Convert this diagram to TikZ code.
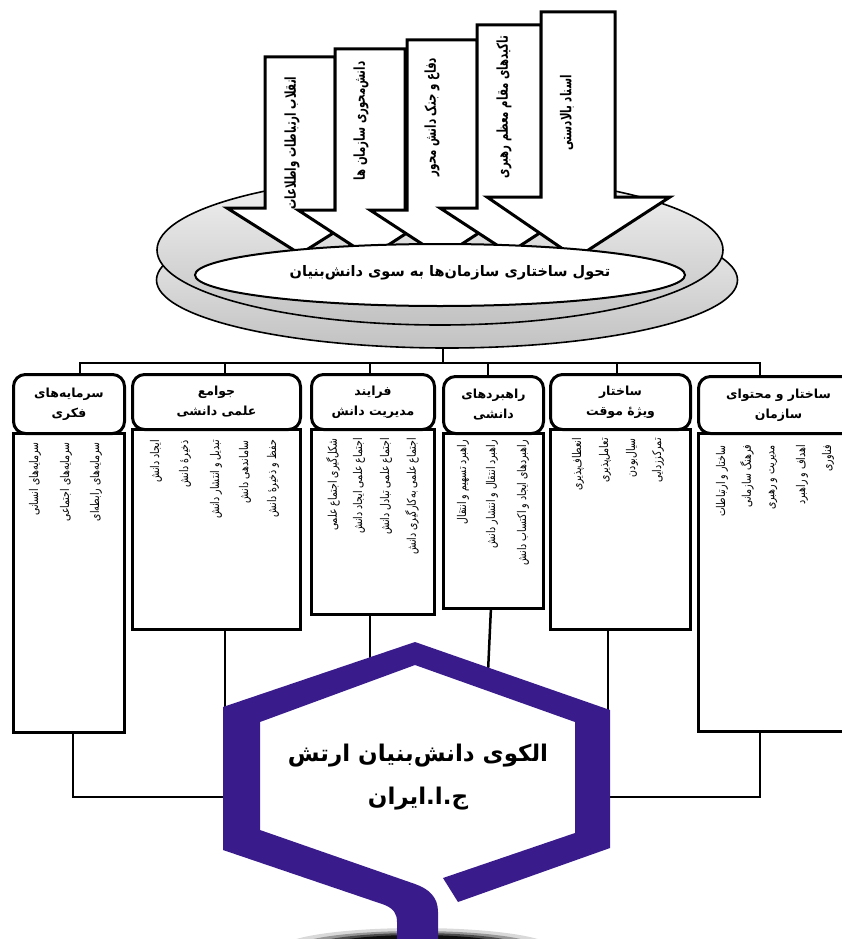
\documentclass[tikz,border=0pt]{standalone}
\usepackage{fontspec}
\usetikzlibrary{shapes.geometric}
\newfontfamily\fa[Script=Arabic]{DejaVu Sans}
\newfontfamily\fan[Script=Arabic,FakeStretch=0.78]{DejaVu Sans}
\newfontfamily\fab[Script=Arabic,FakeStretch=0.68]{DejaVu Sans}
\TeXXeTstate=1
\newcommand\RL[1]{\beginR#1\endR}
\definecolor{hexc}{RGB}{58,27,140}
\begin{document}
\begin{tikzpicture}[x=1pt,y=-1pt,
  hdr/.style={draw,line width=3pt,rounded corners=12pt,fill=white,anchor=north west,align=center,inner sep=0pt,font=\fa\bfseries\fontsize{12.5}{20}\selectfont},
  bodybox/.style={draw,line width=3pt,fill=white,anchor=north west,inner sep=0pt},
  conn/.style={line width=2.5pt},
  arr/.style={draw,line width=3pt,fill=white,line join=miter},
  item/.style={rotate=90,anchor=east,inner sep=0pt,font=\fan\fontsize{12}{14}\selectfont},
  arrtxt/.style={rotate=90,inner sep=0pt,font=\fab\bfseries\fontsize{15}{17}\selectfont},
  disk/.style={ellipse,draw,line width=1.6pt,top color=gray!10,bottom color=gray!48,inner sep=0pt}
]
\clip (0,0) rectangle (842,939);
\fill[white] (0,0) rectangle (842,939);

% shadow under the stem
\fill[black,opacity=0.15] (417,948) ellipse [x radius=135,y radius=20];
\fill[black,opacity=0.3] (417,948) ellipse [x radius=122,y radius=17];
\fill[black,opacity=0.5] (417,948) ellipse [x radius=108,y radius=15];
\fill[black,opacity=0.8] (417,948) ellipse [x radius=95,y radius=13];

% stacked disks
\node[disk,minimum width=581,minimum height=136] (disk2) at (447,280) {};
\node[disk,minimum width=566,minimum height=150] (disk1) at (440,250) {};

% block arrows
\draw[arr] (265,57) -- (335,57) -- (335,208) -- (373,208) -- (300,254) -- (227,208) -- (265,208) -- cycle;
\draw[arr] (335,49) -- (405,49) -- (405,210) -- (442,210) -- (370,257) -- (298,210) -- (335,210) -- cycle;
\draw[arr] (407,40) -- (477,40) -- (477,210) -- (514,210) -- (442,257) -- (370,210) -- (407,210) -- cycle;
\draw[arr] (477,25) -- (541,25) -- (541,208) -- (578,208) -- (509,253) -- (440,208) -- (477,208) -- cycle;
\draw[arr] (541,12) -- (615,12) -- (615,197) -- (670,197) -- (576,258) -- (487,197) -- (541,197) -- cycle;
\node[arrtxt] (a1) at (292,143) {\RL{انقلاب ارتباطات واطلاعات}};
\node[arrtxt] (a2) at (361,121) {\RL{دانش‌محوری سازمان ها}};
\node[arrtxt] (a3) at (432,117) {\RL{دفاع و جنک دانش محور}};
\node[arrtxt] (a4) at (504,107) {\RL{تاکیدهای مقام معظم رهبری}};
\node[arrtxt] (a5) at (567,113) {\RL{اسناد بالادستی}};

% core ellipse
\node[ellipse,draw,line width=2pt,fill=white,minimum width=490,minimum height=62] (core) at (440,275) {};
\node[font=\fa\bfseries\fontsize{14.5}{17}\selectfont,inner sep=0pt] (coretxt) at (450,273) {\RL{تحول ساختاری سازمان‌ها به سوی دانش‌بنیان}};

% connector coordinates
\coordinate (j) at (443,363);
\coordinate (t1) at (80,373);
\coordinate (t2) at (225,373);
\coordinate (t3) at (370,373);
\coordinate (t4) at (488,375);
\coordinate (t5) at (617,373);
\coordinate (t6) at (760,375);
\coordinate (u1) at (73,731);
\coordinate (u2) at (225,628);
\coordinate (u3) at (370,613);
\coordinate (u4) at (491,607);
\coordinate (u5) at (608,628);
\coordinate (u6) at (760,730);
\coordinate (hxL) at (230,797);
\coordinate (hxR) at (603,797);
\coordinate (hxUL) at (225,712);
\coordinate (hxTL) at (370,662);
\coordinate (hxTR) at (488,672);
\coordinate (hxUR) at (608,714);

\draw[conn] (j |- disk2.south) -- (j);
\draw[conn] (t1) |- (j) -| (t6);
\draw[conn] (t2) -- (t2 |- j);
\draw[conn] (t3) -- (t3 |- j);
\draw[conn] (t4) -- (t4 |- j);
\draw[conn] (t5) -- (t5 |- j);

\draw[conn] (u1) |- (hxL);
\draw[conn] (u6) |- (hxR);
\draw[conn] (u2) -- (hxUL);
\draw[conn] (u3) -- (hxTL);
\draw[conn] (u4) -- (hxTR);
\draw[conn] (u5) -- (hxUR);

% boxes: bodies
\node[bodybox,minimum width=111,minimum height=299] (b1) at (12,432) {};
\node[bodybox,minimum width=168,minimum height=200] (b2) at (131,428) {};
\node[bodybox,minimum width=123,minimum height=185] (b3) at (310,428) {};
\node[bodybox,minimum width=100,minimum height=175] (b4) at (442,432) {};
\node[bodybox,minimum width=140,minimum height=200] (b5) at (549,428) {};
\node[bodybox,minimum width=160,minimum height=298] (b6) at (697,432) {};

% boxes: headers
\node[hdr,minimum width=111,minimum height=59] (h1) at (12,373) {\RL{سرمایه‌های}\\\RL{فکری}};
\node[hdr,minimum width=168,minimum height=55] (h2) at (131,373) {\RL{جوامع}\\\RL{علمی دانشی}};
\node[hdr,minimum width=123,minimum height=55] (h3) at (310,373) {\RL{فرایند}\\\RL{مدیریت دانش}};
\node[hdr,minimum width=100,minimum height=57] (h4) at (442,375) {\RL{راهبردهای}\\\RL{دانشی}};
\node[hdr,minimum width=140,minimum height=55] (h5) at (549,373) {\RL{ساختار}\\\RL{ویژهٔ موقت}};
\node[hdr,minimum width=160,minimum height=57] (h6) at (697,375) {\RL{ساختار و محتوای}\\\RL{سازمان}};

% items
\node[item] (i11) at (35,442) {\RL{سرمایه‌های انسانی}};
\node[item] (i12) at (66,442) {\RL{سرمایه‌های اجتماعی}};
\node[item] (i13) at (96,442) {\RL{سرمایه‌های رابطه‌ای}};

\node[item] (i21) at (156,440) {\RL{ایجاد دانش}};
\node[item] (i22) at (185,440) {\RL{ذخیرهٔ دانش}};
\node[item] (i23) at (216,440) {\RL{تبدیل و انتشار دانش}};
\node[item] (i24) at (245,440) {\RL{ساماندهی دانش}};
\node[item] (i25) at (273,440) {\RL{حفظ و ذخیرهٔ دانش}};

\node[item] (i31) at (333,438) {\RL{شکل‌گیری اجتماع علمی}};
\node[item] (i32) at (359,438) {\RL{اجتماع علمی ایجاد دانش}};
\node[item] (i33) at (386,438) {\RL{اجتماع علمی تبادل دانش}};
\node[item] (i34) at (412,438) {\RL{اجتماع علمی به‌کارگیری دانش}};

\node[item] (i41) at (463,440) {\RL{راهبرد تسهیم و انتقال}};
\node[item] (i42) at (492,440) {\RL{راهبرد انتقال و انتشار دانش}};
\node[item] (i43) at (523,440) {\RL{راهبردهای ایجاد و اکتساب دانش}};

\node[item] (i51) at (578,438) {\RL{انعطاف‌پذیری}};
\node[item] (i52) at (605,438) {\RL{تعامل‌پذیری}};
\node[item] (i53) at (632,438) {\RL{سیال‌بودن}};
\node[item] (i54) at (658,438) {\RL{تمرکززدایی}};

\node[item] (i61) at (722,445) {\RL{ساختار و ارتباطات}};
\node[item] (i62) at (747,445) {\RL{فرهنگ سازمانی}};
\node[item] (i63) at (773,445) {\RL{مدیریت و رهبری}};
\node[item] (i64) at (802,445) {\RL{اهداف و راهبرد}};
\node[item] (i65) at (828,445) {\RL{فناوری}};

% hexagon emblem
\fill[hexc] (458,902) -- (610,848) -- (610,710) -- (415,642) -- (223,707) -- (223,850)
  -- (385,905) .. controls (394,909) and (397,914) .. (397,922) -- (397,945) -- (438,945)
  -- (438,912) .. controls (438,897) and (429,889) .. (415,884) -- (260,830) -- (260,722)
  -- (415,665) -- (575,722) -- (575,833) -- (443,878) -- cycle;
\node[font=\fa\bfseries\fontsize{23}{43}\selectfont,align=center,inner sep=0pt] (hxt) at (418,777) {\RL{الکوی دانش‌بنیان ارتش}\\\RL{ج.ا.ایران}};
\end{tikzpicture}
\end{document}
